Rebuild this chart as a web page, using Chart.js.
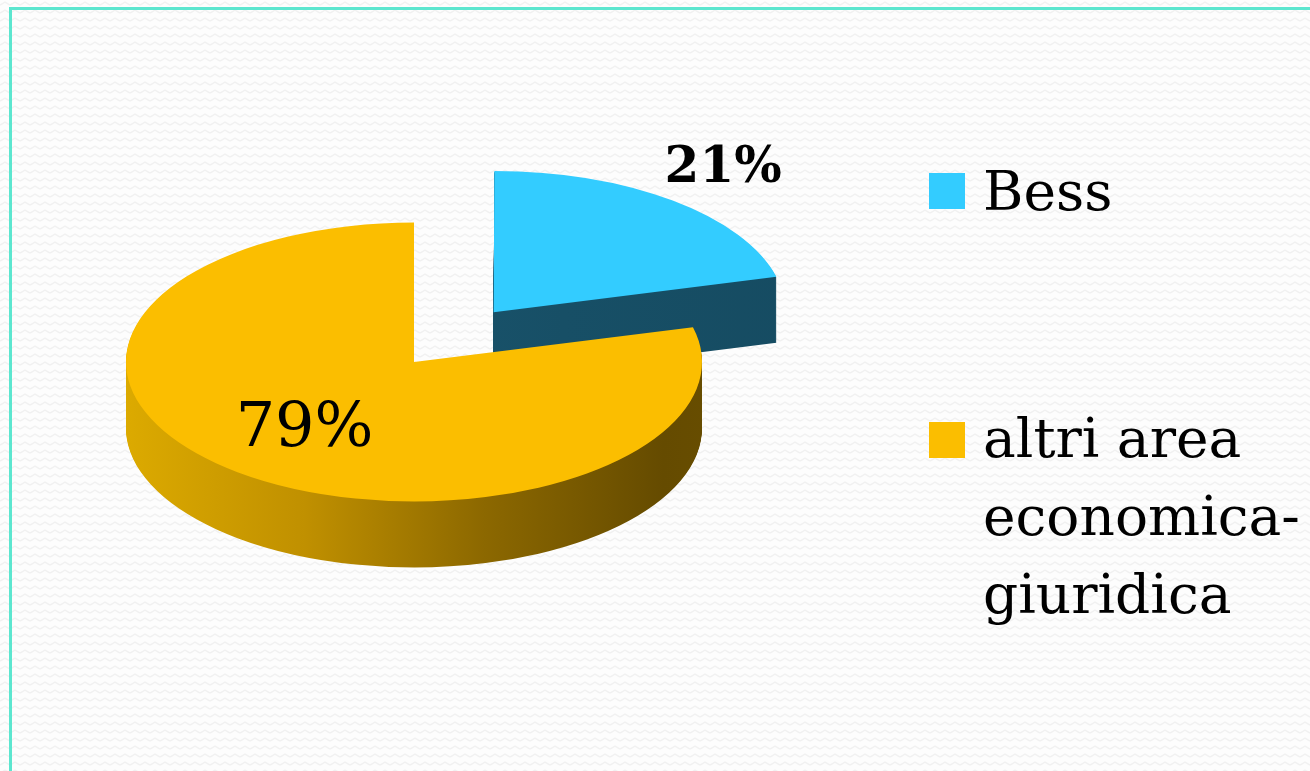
<!DOCTYPE html>
<html>
<head>
<meta charset="utf-8">
<script src="https://cdn.jsdelivr.net/npm/chart.js@4.4.1/dist/chart.umd.min.js"></script>
<style>
  html, body { margin: 0; padding: 0; }
  body {
    width: 1310px; height: 771px; overflow: hidden; position: relative;
    background-color: #fdfdfd;
    background-image: url("data:image/svg+xml,%3Csvg xmlns='http://www.w3.org/2000/svg' width='10' height='8'%3E%3Cpolyline points='0,5 5,2 10,5' fill='none' stroke='%23f1f1f1' stroke-width='1.5'/%3E%3C/svg%3E");
  }
  #frame { position: absolute; left: 9px; top: 7px; width: 1400px; height: 900px; border: 3px solid #5ce6cf; box-sizing: border-box; }
  #chart { position: absolute; left: 0; top: 0; }
  #legend { position: absolute; left: 929px; top: 0; font-family: "DejaVu Serif"; font-size: 55px; line-height: 78px; color: #000; }
  .box { position: absolute; left: 0; width: 36px; height: 36px; }
  .txt { position: absolute; left: 54px; width: 340px; }
</style>
</head>
<body>
<div id="frame"></div>
<canvas id="chart" width="1310" height="771"></canvas>
<div id="legend"></div>

<script>
// ======= DATI =======
const labels = ["Bess", "altri area economica-giuridica"];
const values = [21, 79];
const topColors = ["#33ccff", "#fbbe00"];
// colori del bordo 3D (gradiente da sinistra a destra)
const sideColors = [
  ["#1b5872", "#174f66", "#154a60"],
  ["#dcaa00", "#c09000", "#8c6800", "#654b00", "#6e5300"]
];

const TILT = 0.484;   // schiacciamento verticale
const DEPTH = 66;     // spessore torta in px
const labelRadius = [1.3, 0.62];
const labelFonts = ["bold 50px 'DejaVu Serif'", "62px 'DejaVu Serif'"];

// ======= PLUGIN 3D =======
const pie3d = {
  id: "pie3d",
  beforeDatasetsDraw(chart) {
    const ctx = chart.ctx;
    const arcs = chart.getDatasetMeta(0).data;
    const cx = arcs[0].x, cy = arcs[0].y, r = arcs[0].outerRadius;

    ctx.save();
    ctx.translate(0, cy);
    ctx.scale(1, TILT);
    ctx.translate(0, -cy);

    const grads = sideColors.map(stops => {
      const g = ctx.createLinearGradient(cx - r, 0, cx + r + 140, 0);
      stops.forEach((c, j) => g.addColorStop(j / (stops.length - 1), c));
      return g;
    });

    // pareti laterali
    for (let k = DEPTH; k > 0; k--) {
      arcs.forEach((arc, i) => {
        ctx.save();
        ctx.translate(0, k / TILT);
        const saved = arc.options;
        arc.options = Object.assign({}, saved, { backgroundColor: grads[i], borderWidth: 0 });
        arc.draw(ctx);
        arc.options = saved;
        ctx.restore();
      });
    }
  },
  afterDatasetsDraw(chart) {
    const ctx = chart.ctx;
    ctx.restore();

    const arcs = chart.getDatasetMeta(0).data;
    const total = values.reduce((a, b) => a + b, 0);
    arcs.forEach((arc, i) => {
      const h = (arc.startAngle + arc.endAngle) / 2;
      const t = (arc.options.offset || 0) / 4;
      const d = t + labelRadius[i] * arc.outerRadius;
      const x = arc.x + Math.cos(h) * d;
      const y = arc.y + Math.sin(h) * d * TILT;
      ctx.save();
      ctx.font = labelFonts[i];
      ctx.fillStyle = "#000";
      ctx.textAlign = "center";
      ctx.textBaseline = "middle";
      ctx.fillText(Math.round(values[i] / total * 100) + "%", x, y);
      ctx.restore();
    });
  }
};

// ======= GRAFICO =======
const ctx = document.getElementById("chart");
const chart = new Chart(ctx, {
  type: "pie",
  data: {
    labels: labels,
    datasets: [{
      data: values,
      backgroundColor: topColors,
      borderWidth: 0,
      offset: [520, 0],
      radius: 288,
      clip: false
    }]
  },
  options: {
    responsive: false,
    animation: false,
    layout: { padding: { left: 0, right: 482, top: 0, bottom: 47 } },
    plugins: {
      legend: { display: false },
      tooltip: { enabled: false }
    }
  },
  plugins: [pie3d]
});

// ======= LEGENDA =======
const legend = document.getElementById("legend");
const boxTops = [173, 422];
const textTops = [152, 399];
labels.forEach((l, i) => {
  legend.innerHTML += `
    <div class="box" style="top:${boxTops[i]}px;background:${topColors[i]}"></div>
    <div class="txt" style="top:${textTops[i]}px">${l}</div>
  `;
});
</script>
</body>
</html>
